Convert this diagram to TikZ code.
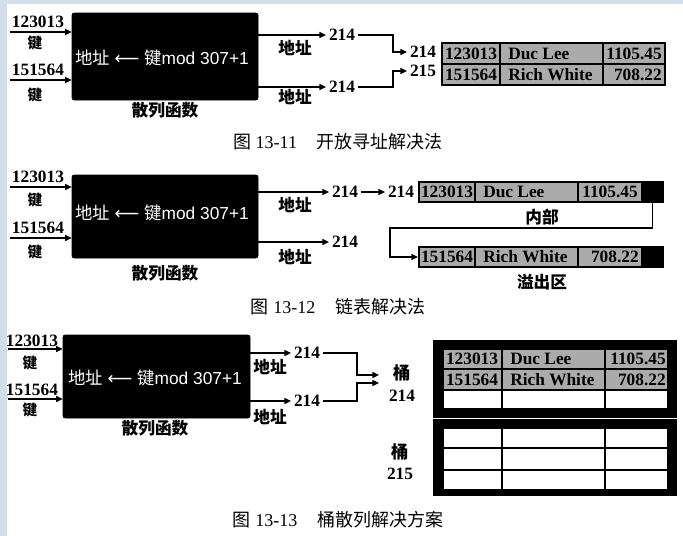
\documentclass[tikz,border=0pt]{standalone}
\usepackage{fontspec}
\setmainfont{Liberation Serif}
\newfontfamily\cjk{Noto Sans CJK SC}
\newfontfamily\lsans{Liberation Sans}
\newfontfamily\dvs{DejaVu Sans}
\usetikzlibrary{arrows.meta,fit}
\definecolor{bandblue}{HTML}{D3DEEC}
\definecolor{cellgray}{HTML}{ABABAB}
\begin{document}
\begin{tikzpicture}[x=0.75pt,y=-0.75pt,
 hashbox/.style={fill=black, draw=black, rounded corners=1.5pt, inner sep=0pt},
 num/.style={font=\fontsize{13}{15}\selectfont\bfseries, inner sep=0.5pt},
 onum/.style={font=\fontsize{13}{15}\selectfont\bfseries, inner sep=2pt},
 zh/.style={font=\fontsize{12.5}{14}\selectfont\cjk\bfseries, inner sep=0.5pt},
 zhs/.style={font=\fontsize{11}{12}\selectfont\cjk\bfseries, inner sep=0.5pt},
 bucket/.style={font=\fontsize{13}{16}\selectfont\cjk\bfseries, inner sep=0.5pt, align=center},
 innertxt/.style={text=white, font=\fontsize{13}{14}\selectfont\lsans, inner sep=0pt},
 arr/.style={draw, line width=1.1pt, -{Triangle[length=5pt,width=4.5pt]}},
 cell/.style={draw=black, fill=cellgray, line width=1.4pt, inner sep=0pt},
 ecell/.style={draw=black, fill=white, line width=1.4pt, inner sep=0pt},
 blk/.style={draw=black, fill=black, line width=1.4pt, inner sep=0pt},
 ttext/.style={font=\fontsize{13}{14}\selectfont\bfseries, inner sep=0pt},
 captxt/.style={font=\fontsize{13.5}{16}\selectfont, inner sep=0pt},
]
\fill[white] (0,0) rectangle (683,536);
\useasboundingbox (0,0) rectangle (683,536);
\fill[bandblue] (0,0) rectangle (683,4);
\fill[bandblue] (0,0) rectangle (7,536);

% ---------------- Figure 13-11 ----------------
\node[hashbox, fit={(72,13)(258,100)}] (h1) {};
\node[innertxt] (f1) at (162,58) {{\cjk 地址} {\dvs ⟵} {\cjk 键}mod 307+1};
\coordinate (i1a) at (10,32);
\coordinate (i1b) at (10,80);
\draw[arr] (i1a) -- (i1a -| h1.west);
\draw[arr] (i1b) -- (i1b -| h1.west);
\node[num] (k1a) at (38,22) {123013};
\node[zhs] (j1a) at (35,43) {键};
\node[num] (k1b) at (38,70) {151564};
\node[zhs] (j1b) at (35,95) {键};
\node[onum] (o1a) at (342,35) {214};
\node[onum] (o1b) at (342,87) {214};
\draw[arr] (h1.east |- o1a) -- (o1a.west);
\draw[arr] (h1.east |- o1b) -- (o1b.west);
\node[zh] (d1a) at (295,48) {地址};
\node[zh] (d1b) at (295,97) {地址};
\node[zh] (s1) at (165,110) {散列函数};
\node[onum] (p214) at (423,52) {214};
\node[onum] (p215) at (423,71) {215};
\coordinate (c1) at (393,0);
\draw[arr] (o1a.east) -| (c1 |- p214) -- (p214.west);
\draw[arr] (o1b.east) -| (c1 |- p215) -- (p215.west);
\foreach \r/\ya/\yb in {1/43/64, 2/64/85}
  \foreach \c/\xa/\xb in {1/442/500, 2/500/603, 3/603/665}
    \node[cell, fit={(\xa,\ya)(\xb,\yb)}] (t1-\r-\c) {};
\node[ttext] (x1a) at (471,54) {123013};
\node[ttext, anchor=west] (x1b) at (508,54) {Duc Lee};
\node[ttext] (x1c) at (634,54) {1105.45};
\node[ttext] (x1d) at (471,75) {151564};
\node[ttext, anchor=west] (x1e) at (508,75) {Rich White};
\node[ttext, anchor=east] (x1f) at (662,75) {708.22};
\node[captxt] (cap1) at (338,142) {{\cjk 图} 13-11\hspace{1.1em}{\cjk 开放寻址解决法}};

% ---------------- Figure 13-12 ----------------
\node[hashbox, fit={(72,175)(258,258)}] (h2) {};
\node[innertxt] (f2) at (162,213) {{\cjk 地址} {\dvs ⟵} {\cjk 键}mod 307+1};
\coordinate (i2a) at (10,187);
\coordinate (i2b) at (10,238);
\draw[arr] (i2a) -- (i2a -| h2.west);
\draw[arr] (i2b) -- (i2b -| h2.west);
\node[num] (k2a) at (38,177) {123013};
\node[zhs] (j2a) at (35,200) {键};
\node[num] (k2b) at (38,228) {151564};
\node[zhs] (j2b) at (35,252) {键};
\node[onum] (o2a) at (345,192) {214};
\node[onum] (o2b) at (345,242) {214};
\draw[arr] (h2.east |- o2a) -- (o2a.west);
\draw[arr] (h2.east |- o2b) -- (o2b.west);
\node[zh] (d2a) at (295,205) {地址};
\node[zh] (d2b) at (295,257) {地址};
\node[zh] (s2) at (165,273) {散列函数};
\node[onum] (q214) at (401,192) {214};
\draw[arr] (o2a.east) -- (q214.west);
\foreach \r/\ya/\yb in {a/182/202, b/247/267} {
  \node[cell, fit={(419,\ya)(475,\yb)}] (t2\r1) {};
  \node[cell, fit={(475,\ya)(578,\yb)}] (t2\r2) {};
  \node[cell, fit={(578,\ya)(642,\yb)}] (t2\r3) {};
  \node[blk, fit={(642,\ya)(663,\yb)}] (t2\r4) {};
}
\node[ttext] (x2a) at (447,192) {123013};
\node[ttext, anchor=west] (x2b) at (483,192) {Duc Lee};
\node[ttext] (x2c) at (610,192) {1105.45};
\node[ttext] (x2d) at (447,257) {151564};
\node[ttext, anchor=west] (x2e) at (483,257) {Rich White};
\node[ttext, anchor=east] (x2f) at (639,257) {708.22};
\node[zh] (n2a) at (542,217) {内部};
\node[zh] (n2b) at (542,282) {溢出区};
\coordinate (l1) at (390,228);
\draw[arr] (t2a4.south) |- (l1) |- (t2b1.west);
\node[captxt] (cap2) at (338,307) {{\cjk 图} 13-12\hspace{1.1em}{\cjk 链表解决法}};

% ---------------- Figure 13-13 ----------------
\node[hashbox, fit={(63,335)(250,418)}] (h3) {};
\node[innertxt] (f3) at (155,378) {{\cjk 地址} {\dvs ⟵} {\cjk 键}mod 307+1};
\coordinate (i3a) at (8,349);
\coordinate (i3b) at (8,399);
\draw[arr] (i3a) -- (i3a -| h3.west);
\draw[arr] (i3b) -- (i3b -| h3.west);
\node[num] (k3a) at (32,341) {123013};
\node[zhs] (j3a) at (30,363) {键};
\node[num] (k3b) at (32,390) {151564};
\node[zhs] (j3b) at (30,410) {键};
\node[onum] (r1) at (307,353) {214};
\node[onum] (r2) at (307,401) {214};
\draw[arr] (h3.east |- r1) -- (r1.west);
\draw[arr] (h3.east |- r2) -- (r2.west);
\node[zh] (d3a) at (270,367) {地址};
\node[zh] (d3b) at (270,417) {地址};
\node[zh] (s3) at (155,428) {散列函数};
\node[bucket] (b214) at (402,383) {桶\\{\rmfamily 214}};
\node[bucket] (b215) at (400,462) {桶\\{\rmfamily 215}};
\coordinate (mj) at (357,0);
\coordinate (e1) at (379,375);
\coordinate (e2) at (379,383);
\draw[arr] (r1.east) -| (mj |- e1) -- (e1);
\draw[arr] (r2.east) -| (mj |- e2) -- (e2);
\node[blk, fit={(434,341)(676,417)}] (bk1) {};
\node[blk, fit={(434,420)(676,495)}] (bk2) {};
\foreach \r/\ya/\yb/\st in {1/349/369/cell, 2/369/390/cell, 3/390/409/ecell}
  \foreach \c/\xa/\xb in {1/443/502, 2/502/605, 3/605/668}
    \node[\st, fit={(\xa,\ya)(\xb,\yb)}] (u1-\r-\c) {};
\foreach \r/\ya/\yb in {1/428/448, 2/448/470, 3/470/490}
  \foreach \c/\xa/\xb in {1/443/502, 2/502/605, 3/605/668}
    \node[ecell, fit={(\xa,\ya)(\xb,\yb)}] (u2-\r-\c) {};
\node[ttext] (x3a) at (472,359) {123013};
\node[ttext, anchor=west] (x3b) at (510,359) {Duc Lee};
\node[ttext, anchor=east] (x3c) at (666,359) {1105.45};
\node[ttext] (x3d) at (472,380) {151564};
\node[ttext, anchor=west] (x3e) at (510,380) {Rich White};
\node[ttext, anchor=east] (x3f) at (666,380) {708.22};
\node[captxt] (cap3) at (338,520) {{\cjk 图} 13-13\hspace{1.1em}{\cjk 桶散列解决方案}};
\end{tikzpicture}
\end{document}
